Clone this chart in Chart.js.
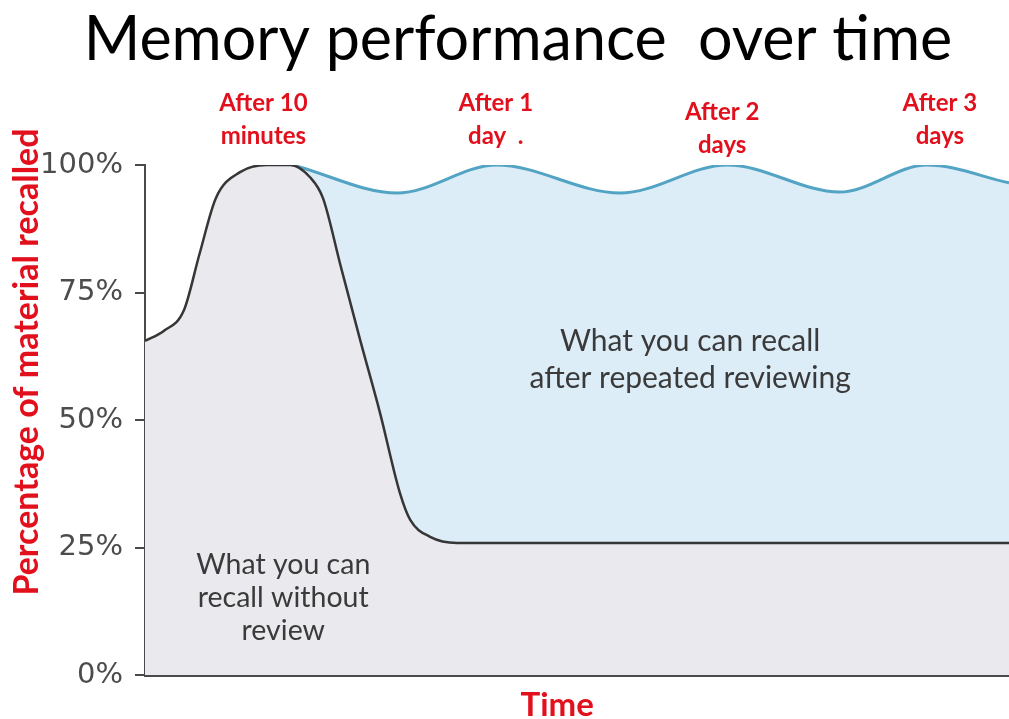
<!DOCTYPE html>
<html>
<head>
<meta charset="utf-8">
<title>Memory performance over time</title>
<script src="https://cdn.jsdelivr.net/npm/chart.js@4"></script>
<style>
  html, body { margin: 0; padding: 0; background: #fff; }
  #wrap { width: 1009px; height: 719px; position: relative; }
</style>
</head>
<body>
<div id="wrap"><canvas id="chart"></canvas></div>
<script>
// time runs 0..100 across the plot; values are percent recalled
const noReviewTime = [0, 2.2, 4.5, 6.3, 8.2, 11.0, 14.1, 16.8, 19.1, 20.6, 22.6, 24.9, 27.2, 29.5, 30.7, 33.0, 36.1, 100];
const noReviewPct  = [65.5, 67.5, 71.5, 82.5, 93.5, 98.6, 100, 100, 97.6, 93.5, 80.5, 65.7, 51.4, 35.7, 30.4, 27.1, 25.9, 25.9];

const reviewTime = [17.5, 29.2, 40.7, 55.0, 67.4, 80.4, 90.5, 100];
const reviewPct  = [99.8, 94.5, 100, 94.5, 100, 94.7, 100, 96.5];

const yTicks = [0, 25, 50, 75, 100];

const milestones = [["After 10", "minutes"], ["After 1", "day  ."], ["After 2", "days"], ["After 3", "days"]];
const milestoneTime = [13.7, 40.6, 66.8, 92.0];

const RED = "#e2101c";
const INK = "#3a3a3a";

function toPoints(xs, ys) {
  return xs.map((x, i) => ({ x, y: ys[i] }));
}

// все подписи, которые Chart.js сам не рисует
const textLayer = {
  id: "textLayer",
  afterDraw(chart) {
    const { ctx, scales: { x, y } } = chart;
    ctx.save();
    ctx.textAlign = "center";
    ctx.textBaseline = "middle";

    // заголовок чуть правее центра, как в оригинале
    ctx.fillStyle = "#000";
    ctx.font = "61px Lato";
    ctx.fillText("Memory performance  over time", 518, 40);

    // красные отметки над пиками
    ctx.fillStyle = RED;
    ctx.font = "bold 24px Lato";
    milestones.forEach((lines, i) => {
      const px = x.getPixelForValue(milestoneTime[i]);
      const top = i === 2 ? 112 : 103;
      lines.forEach((t, j) => ctx.fillText(t, px, top + j * 33));
    });

    // подписи областей
    ctx.fillStyle = INK;
    ctx.font = "30px Lato";
    const rx = x.getPixelForValue(63.1), ry = y.getPixelForValue(65.5);
    ctx.fillText("What you can recall", rx, ry);
    ctx.fillText("after repeated reviewing", rx, ry + 37);

    ctx.font = "28.5px Lato";
    const gx = x.getPixelForValue(16.0), gy = y.getPixelForValue(15.1);
    ["What you can", "recall without", "review"].forEach((t, j) => ctx.fillText(t, gx, gy + (j - 1) * 33));

    // оси
    ctx.fillStyle = RED;
    ctx.font = "bold 33px Lato";
    ctx.fillText("Time", x.getPixelForValue(47.7), 705);

    ctx.translate(27, 362);
    ctx.rotate(-Math.PI / 2);
    ctx.font = "bold 34px Lato";
    ctx.fillText("Percentage of material recalled", 0, 0);
    ctx.restore();
  },
};

new Chart(document.getElementById("chart"), {
  type: "line",
  data: {
    datasets: [
      {
        label: "Without review",
        data: toPoints(noReviewTime, noReviewPct),
        borderColor: "#363636",
        borderWidth: 2.5,
        backgroundColor: "#e9e9ee",
        fill: "origin",
        cubicInterpolationMode: "monotone",
        pointRadius: 0,
      },
      {
        label: "After repeated reviewing",
        data: toPoints(reviewTime, reviewPct),
        borderColor: "#52a3c4",
        borderWidth: 3,
        backgroundColor: "#dcedf8",
        fill: "origin",
        cubicInterpolationMode: "monotone",
        pointRadius: 0,
      },
    ],
  },
  options: {
    responsive: true,
    maintainAspectRatio: false,
    animation: false,
    layout: { padding: { top: 165 } },
    plugins: {
      legend: { display: false },
      tooltip: { enabled: false },
    },
    scales: {
      x: {
        type: "linear",
        min: 0,
        max: 100,
        ticks: { display: false },
        grid: { display: false },
        border: { display: true, color: "#4a4a4a", width: 3 },
        afterFit: (s) => { s.height = 44; },
      },
      y: {
        min: 0,
        max: 100,
        afterBuildTicks: (s) => { s.ticks = yTicks.map((v) => ({ value: v })); },
        ticks: {
          color: "#4c4c4c",
          padding: 12,
          font: { family: "DejaVu Sans", size: 29 },
          callback: (v) => v + "%",
        },
        grid: { drawOnChartArea: false, drawTicks: true, tickLength: 10, color: "#4a4a4a", lineWidth: 2 },
        border: { display: true, color: "#4a4a4a", width: 2 },
        afterFit: (s) => { s.width = 145; },
      },
    },
  },
  plugins: [textLayer],
});
</script>
</body>
</html>
